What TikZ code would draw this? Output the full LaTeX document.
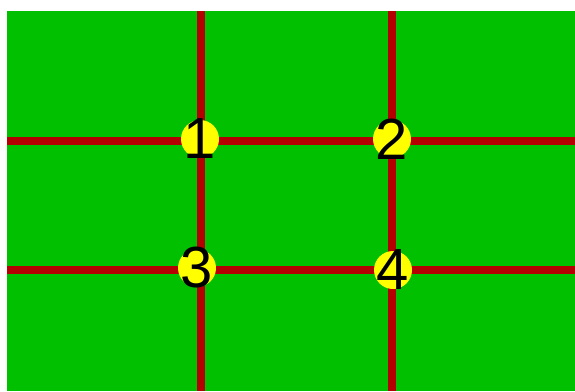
\documentclass[tikz,border=0pt]{standalone}
\usepackage{fontspec}
\setmainfont{Liberation Sans}
\usepackage{tikz}
\usetikzlibrary{positioning}
\definecolor{grass}{HTML}{00C000}
\definecolor{gridred}{HTML}{B40000}
\definecolor{spot}{HTML}{FFFF00}
\tikzset{
  gridline/.style = {draw=gridred, line width=8pt},
  dot/.style = {circle, fill=spot, minimum size=38pt, inner sep=0pt},
  num/.style = {inner sep=0pt, font=\fontsize{58}{58}\selectfont}
}

\begin{document}
\begin{tikzpicture}[x=1pt, y=-1pt]
    \useasboundingbox (0,0) rectangle (575,391);
    \fill[grass] (7,11) rectangle (575,391);

    % thirds grid
    \draw [gridline] (201,11) -- (201,391);
    \draw [gridline] (392,11) -- (392,391);
    \draw [gridline] (7,141) -- (575,141);
    \draw [gridline] (7,270) -- (575,270);

    % points of interest
    \node (d1) [dot] at (200,139) {};
    \node (d2) [dot] at (392,139) {};
    \node (d3) [dot] at (197,268) {};
    \node (d4) [dot] at (393,270) {};
    \node (n1) [num] at (d1) {1};
    \node (n2) [num] at (d2) {2};
    \node (n3) [num] at (d3) {3};
    \node (n4) [num] at (d4) {4};
\end{tikzpicture}
\end{document}
